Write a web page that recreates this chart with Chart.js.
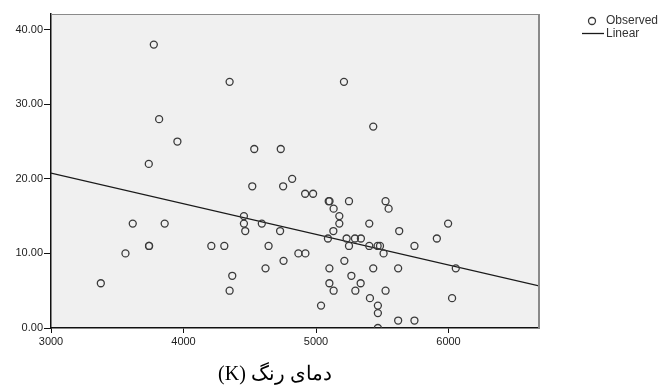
<!DOCTYPE html>
<html>
<head>
<meta charset="utf-8">
<script src="https://cdn.jsdelivr.net/npm/chart.js@4.4.0/dist/chart.umd.min.js"></script>
<style>
  html, body { margin: 0; padding: 0; background: #fff; }
</style>
</head>
<body>
<canvas id="myChart" width="660" height="390"></canvas>
<script>
// colour temperature (K) of each observation
const colorTemp = [
  3376, 3562, 3617, 3740, 3740, 3738, 3776, 3816, 3858, 3954,
  4210, 4308, 4348, 4348, 4368, 4456, 4456, 4466, 4519, 4534,
  4591, 4619, 4642, 4729, 4734, 4752, 4755, 4820, 4867, 4918,
  4920, 4978, 5038, 5090, 5096, 5102, 5101, 5101, 5131, 5133,
  5133, 5176, 5176, 5211, 5214, 5231, 5249, 5249, 5267, 5294,
  5297, 5337, 5339, 5402, 5402, 5407, 5432, 5432, 5465, 5483,
  5467, 5467, 5467, 5510, 5525, 5525, 5548, 5620, 5620, 5628,
  5743, 5743, 5912, 5997, 6027, 6055
];
// observed values, same order
const observed = [
  6, 10, 14, 11, 11, 22, 38, 28, 14, 25,
  11, 11, 33, 5, 7, 15, 14, 13, 19, 24,
  14, 8, 11, 13, 24, 19, 9, 20, 10, 18,
  10, 18, 3, 12, 17, 17, 8, 6, 13, 16,
  5, 15, 14, 33, 9, 12, 17, 11, 7, 12,
  5, 6, 12, 14, 11, 4, 27, 8, 11, 11,
  3, 2, 0, 10, 17, 5, 16, 8, 1, 13,
  11, 1, 12, 14, 4, 8
];
// linear fit, read at the two ends of the plot
const fitX = [3000, 6683];
const fitY = [20.77, 5.64];

const xTicks = [3000, 4000, 5000, 6000];
const yTicks = [0, 10, 20, 30, 40];
const xTitle = '(K) دمای رنگ';

// plot background and the grey top/right frame
const plotFrame = {
  id: 'plotFrame',
  beforeDraw(chart) {
    const { ctx, chartArea: a } = chart;
    ctx.save();
    ctx.fillStyle = '#f0f0f0';
    ctx.fillRect(a.left, a.top, a.right - a.left, a.bottom - a.top);
    ctx.restore();
  },
  afterDraw(chart) {
    const { ctx, chartArea: a } = chart;
    ctx.save();
    ctx.strokeStyle = '#8a8a8a';
    ctx.lineWidth = 1;
    ctx.beginPath();
    ctx.moveTo(a.left, a.top + 0.5);
    ctx.lineTo(a.right, a.top + 0.5);
    ctx.stroke();
    ctx.lineWidth = 2;
    ctx.beginPath();
    ctx.moveTo(a.right, a.top);
    ctx.lineTo(a.right, a.bottom);
    ctx.stroke();
    ctx.restore();
  }
};

// legend in the top right corner + the x axis title (sits left of centre in the original)
const sideLegend = {
  id: 'sideLegend',
  afterDraw(chart) {
    const ctx = chart.ctx;
    const ds = chart.data.datasets;
    ctx.save();
    ctx.font = '12px "Liberation Sans", Arial, sans-serif';
    ctx.fillStyle = '#333';
    ctx.textBaseline = 'middle';
    // Observed
    ctx.strokeStyle = ds[0].pointBorderColor;
    ctx.lineWidth = ds[0].pointBorderWidth;
    ctx.beginPath();
    ctx.arc(592, 21, 3.5, 0, Math.PI * 2);
    ctx.stroke();
    ctx.fillText(ds[0].label, 606, 21);
    // Linear
    ctx.strokeStyle = ds[1].borderColor;
    ctx.lineWidth = ds[1].borderWidth;
    ctx.beginPath();
    ctx.moveTo(582, 33.5);
    ctx.lineTo(604, 33.5);
    ctx.stroke();
    ctx.fillText(ds[1].label, 606, 34);

    // axis title
    ctx.font = '20px "Liberation Serif", "DejaVu Serif", serif';
    ctx.fillStyle = '#000';
    ctx.textAlign = 'center';
    ctx.fillText(xTitle, 275, 375);
    ctx.restore();
  }
};

const tickFont = { family: '"Liberation Sans", Arial, sans-serif', size: 11 };

const ctx = document.getElementById('myChart').getContext('2d');
const myChart = new Chart(ctx, {
  type: 'scatter',
  data: {
    datasets: [{
      label: 'Observed',
      data: colorTemp.map((x, i) => ({ x: x, y: observed[i] })),
      pointRadius: 3.5,
      pointBorderWidth: 1.3,
      pointBorderColor: '#3a3a3a',
      pointBackgroundColor: 'rgba(0,0,0,0)',
      order: 0
    }, {
      label: 'Linear',
      type: 'line',
      data: fitX.map((x, i) => ({ x: x, y: fitY[i] })),
      showLine: true,
      pointRadius: 0,
      borderColor: '#1a1a1a',
      borderWidth: 1.3,
      order: 1
    }]
  },
  options: {
    responsive: false,
    animation: false,
    layout: { padding: { left: 0, top: 14, right: 121, bottom: 0 } },
    plugins: {
      legend: { display: false },
      tooltip: { enabled: false }
    },
    scales: {
      x: {
        type: 'linear',
        min: 3000,
        max: 6683,
        afterBuildTicks: s => { s.ticks = xTicks.map(v => ({ value: v })); },
        afterFit: s => { s.height = 62; },
        ticks: { font: tickFont, color: '#222', padding: 2, maxRotation: 0, callback: v => String(v) },
        grid: { display: true, drawOnChartArea: false, drawTicks: true, tickLength: 5, color: '#111' },
        border: { display: true, color: '#111', width: 1.5 }
      },
      y: {
        min: 0,
        max: 42.1,
        afterBuildTicks: s => { s.ticks = yTicks.map(v => ({ value: v })); },
        afterFit: s => { s.width = 51; },
        ticks: { font: tickFont, color: '#222', padding: 1, callback: v => v.toFixed(2) },
        grid: { display: true, drawOnChartArea: false, drawTicks: true, tickLength: 7, color: '#111' },
        border: { display: true, color: '#111', width: 1.5 }
      }
    }
  },
  plugins: [plotFrame, sideLegend]
});
</script>
</body>
</html>
